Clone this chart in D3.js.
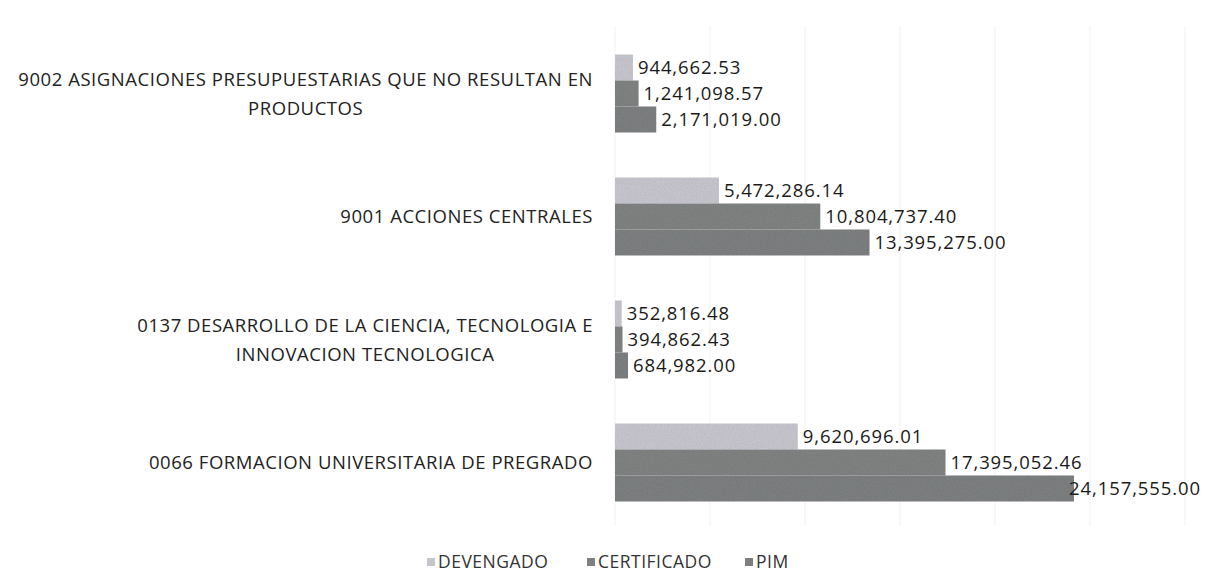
<!DOCTYPE html>
<html>
<head>
<meta charset="utf-8">
<script src="https://cdn.jsdelivr.net/npm/d3@7"></script>
<style>
  html, body { margin: 0; padding: 0; background: #ffffff; }
  svg { display: block; }
</style>
</head>
<body>
<script>
// Budget programmes (top to bottom) and the three execution measures
const categories = [
  "9002 ASIGNACIONES PRESUPUESTARIAS QUE NO RESULTAN EN PRODUCTOS",
  "9001 ACCIONES CENTRALES",
  "0137 DESARROLLO DE LA CIENCIA, TECNOLOGIA E INNOVACION TECNOLOGICA",
  "0066 FORMACION UNIVERSITARIA DE PREGRADO"
];
const categoryLines = [
  ["9002 ASIGNACIONES PRESUPUESTARIAS QUE NO RESULTAN EN", "PRODUCTOS"],
  ["9001 ACCIONES CENTRALES"],
  ["0137 DESARROLLO DE LA CIENCIA, TECNOLOGIA E", "INNOVACION TECNOLOGICA"],
  ["0066 FORMACION UNIVERSITARIA DE PREGRADO"]
];
const seriesNames = ["DEVENGADO", "CERTIFICADO", "PIM"];
const devengado   = [944662.53, 5472286.14, 352816.48, 9620696.01];
const certificado = [1241098.57, 10804737.40, 394862.43, 17395052.46];
const pim         = [2171019.00, 13395275.00, 684982.00, 24157555.00];
const gridTicks   = [0, 5000000, 10000000, 15000000, 20000000, 25000000, 30000000];

const seriesValues = [devengado, certificado, pim];
const seriesColors = ["#c5c4cc", "#7e8180", "#7c7e7f"];

const W = 1211, H = 573;
const FONT = "'Open Sans', 'Liberation Sans', sans-serif";

const svg = d3.select("body").append("svg")
  .attr("width", W).attr("height", H)
  .style("font-family", FONT);

// subtle grain for the bars
const defs = svg.append("defs");
const grain = defs.append("filter").attr("id", "grain")
  .attr("x", 0).attr("y", 0).attr("width", 1).attr("height", 1);
grain.append("feTurbulence").attr("type", "fractalNoise")
  .attr("baseFrequency", 0.85).attr("numOctaves", 2).attr("seed", 4).attr("result", "noise");
grain.append("feColorMatrix").attr("in", "noise").attr("type", "matrix")
  .attr("values", "0 0 0 0 0  0 0 0 0 0  0 0 0 0 0  0 0 0 -1.6 1.0").attr("result", "dots");
grain.append("feComposite").attr("in", "dots").attr("in2", "SourceGraphic")
  .attr("operator", "in").attr("result", "speck");
grain.append("feComponentTransfer").attr("in", "speck").attr("result", "speckSoft")
  .append("feFuncA").attr("type", "linear").attr("slope", 0.18);
const merge = grain.append("feMerge");
merge.append("feMergeNode").attr("in", "SourceGraphic");
merge.append("feMergeNode").attr("in", "speckSoft");

const x = d3.scaleLinear().domain([0, 30000000]).range([615, 1185]);
const plotRight = 1201;

const y = d3.scaleBand().domain(categories).range([32, 524])
  .paddingInner(0.366).paddingOuter(0.183);
const ySub = d3.scaleBand().domain(seriesNames).range([0, y.bandwidth()]);

// gridlines
svg.append("g").selectAll("line").data(gridTicks).join("line")
  .attr("x1", d => x(d)).attr("x2", d => x(d))
  .attr("y1", 26).attr("y2", 526)
  .attr("stroke", "#f1f1f1").attr("stroke-width", 1);

// bars
const groups = svg.append("g").selectAll("g").data(categories).join("g")
  .attr("transform", d => `translate(0,${y(d)})`);

const fmt = d3.format(",.2f");

groups.each(function (cat, ci) {
  const g = d3.select(this);
  const rows = seriesNames.map((s, si) => ({ s, si, v: seriesValues[si][ci] }));
  g.selectAll("rect").data(rows).join("rect")
    .attr("x", x(0))
    .attr("y", d => ySub(d.s))
    .attr("width", d => x(d.v) - x(0))
    .attr("height", ySub.bandwidth())
    .attr("fill", d => seriesColors[d.si])
    .attr("filter", "url(#grain)");

  g.selectAll("text").data(rows).join("text")
    .attr("y", d => ySub(d.s) + ySub.bandwidth() / 2)
    .attr("dy", "0.36em")
    .attr("font-size", 18.5)
    .attr("letter-spacing", 0.9)
    .attr("fill", "#1a1a1a")
    .text(d => fmt(d.v))
    .attr("x", function (d) {
      const w = this.getComputedTextLength();
      return Math.min(x(d.v) + 5, plotRight - w);
    });
});

// category labels: block right-aligned, lines centred within the block
const labelRight = 593;
const lineGap = 29;
categories.forEach((cat, ci) => {
  const lines = categoryLines[ci];
  const cy = y(cat) + y.bandwidth() / 2;
  const t = svg.append("text")
    .attr("font-size", 18.5)
    .attr("letter-spacing", 0.55)
    .attr("fill", "#222222")
    .attr("text-anchor", "middle");
  const spans = lines.map((ln, li) => t.append("tspan")
    .attr("y", cy + (li - (lines.length - 1) / 2) * lineGap)
    .attr("dy", "0.36em")
    .text(ln));
  const widest = d3.max(spans, s => s.node().getComputedTextLength());
  spans.forEach(s => s.attr("x", labelRight - widest / 2));
});

// legend
const legendBaseline = 568;
const legendX = [427, 587, 745];
const legend = svg.append("g");
seriesNames.forEach((s, i) => {
  legend.append("rect")
    .attr("x", legendX[i]).attr("y", legendBaseline - 10)
    .attr("width", 8).attr("height", 8)
    .attr("fill", seriesColors[i]);
  legend.append("text")
    .attr("x", legendX[i] + 11).attr("y", legendBaseline)
    .attr("font-size", 17.5)
    .attr("letter-spacing", 0.5)
    .attr("fill", "#333333")
    .text(s);
});
</script>
</body>
</html>
